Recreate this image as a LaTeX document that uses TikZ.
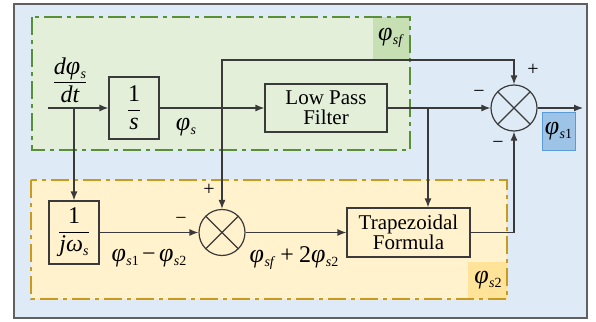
\documentclass[tikz,border=0pt]{standalone}
\usepackage{fontspec}
\setmainfont{Liberation Serif}
\usepackage{amsmath}
\usetikzlibrary{arrows.meta,calc}
\definecolor{bgblue}{HTML}{DEEAF6}
\definecolor{framegray}{HTML}{606060}
\definecolor{boxgray}{HTML}{3A3A3A}
\definecolor{grnline}{HTML}{5A8F3A}
\definecolor{grnfill}{HTML}{E3EFD9}
\definecolor{grnlab}{HTML}{C6DFB3}
\definecolor{ylwline}{HTML}{C99A1E}
\definecolor{ylwfill}{HTML}{FFF2CC}
\definecolor{ylwlab}{HTML}{FFE398}
\definecolor{bluelab}{HTML}{9DC3E6}
\definecolor{blueline}{HTML}{5B9BD5}
\newcommand{\myphi}[1]{{\fontsize{26}{26}\selectfont\textit{φ}}\kern0.5pt\raisebox{-4pt}{\fontsize{14}{14}\selectfont #1}}
\newcommand{\bigtxt}{\fontsize{24}{24}\selectfont}
\begin{document}
\begin{tikzpicture}[x=1pt,y=-1pt,
  font=\fontsize{20}{24}\selectfont,
  blk/.style={draw=boxgray, line width=1.2pt, inner sep=0pt, align=center},
  sumnode/.style={circle, draw=boxgray, line width=1.2pt, minimum size=46pt, inner sep=0pt,
    path picture={\draw[boxgray, line width=1.2pt]
      (path picture bounding box.north west) -- (path picture bounding box.south east)
      (path picture bounding box.north east) -- (path picture bounding box.south west);}},
  arr/.style={draw=boxgray, line width=1.2pt, -{Latex[length=9pt,width=7pt]}},
  arrboth/.style={draw=boxgray, line width=1.2pt, {Latex[length=9pt,width=7pt]}-{Latex[length=9pt,width=7pt]}},
  dashdot/.style={line width=2.2pt, dash pattern=on 18pt off 5pt on 4pt off 5pt},
  lbl/.style={inner sep=1pt}]
\useasboundingbox (0,0) rectangle (596,321);
% outer frame
\draw[framegray, line width=2pt, fill=bgblue] (14,4) rectangle (587,318);
% green region
\fill[grnfill] (32,17) rectangle (410,150);
\fill[grnlab] (373,17) rectangle (410,59);
\draw[grnline, dashdot] (32,17) rectangle (410,150);
\node[lbl] (lsf) at (391,38) {\myphi{\textit{sf}}};
% yellow region
\fill[ylwfill] (31,180) rectangle (507,299);
\fill[ylwlab] (468,262) rectangle (507,299);
\draw[ylwline, dashdot] (31,180) rectangle (507,299);
\node[lbl] (ls2) at (488,280) {\myphi{\textit{s}2}};
% phi_s1 label box
\node[draw=blueline, fill=bluelab, line width=0.8pt, minimum width=33pt, minimum height=38pt, inner sep=0pt] (ls1) at (558.5,131) {\myphi{\textit{s}1}};
% blocks
\node[blk, minimum width=50pt, minimum height=62pt] (int) at (134,108) {$\dfrac{\text{\bigtxt 1}}{\text{\bigtxt\itshape s}}$};
\node[blk, minimum width=122pt, minimum height=48pt, font=\fontsize{21}{20}\selectfont] (lpf) at (326,108) {Low Pass\\Filter};
\node[blk, minimum width=50pt, minimum height=63pt] (jw) at (74,232.5) {$\dfrac{\text{\bigtxt 1}}{\text{\bigtxt\itshape jω\raisebox{-4pt}{\fontsize{14}{14}\selectfont s}}}$};
\node[blk, minimum width=123pt, minimum height=49pt, font=\fontsize{21}{20}\selectfont] (trap) at (408.5,232.5) {Trapezoidal\\Formula};
\node[sumnode] (s1) at (514,108) {};
\node[sumnode] (s2) at (222,232.5) {};
% coordinates
\coordinate (in) at (48,108);
\coordinate (b1) at (74,108);
\coordinate (top) at (222,60);
\coordinate (b2) at (428,108);
\coordinate (out) at (583,108);
% connectors
\draw[arr] (in) -- (int);
\draw[arr] (int) -- (lpf);
\draw[arr] (b1) -- (jw.north);
\draw[arrboth] (s2.north) -- (top) -| (s1.north);
\draw[arr] (lpf) -- (s1.west);
\draw[arr] (b2) -- (b2 |- trap.north);
\draw[arr] (s1) -- (out);
\draw[arr] (jw) -- (s2);
\draw[arr] (s2) -- (trap);
\draw[arr] (trap.east) -| (s1.south);
% texts
\node[lbl] (din) at (70,80) {$\dfrac{\text{\bigtxt\itshape d\myphi{s}}}{\text{\bigtxt\itshape dt}}$};
\node[lbl] (lphis) at (186,127) {\myphi{\textit{s}}};
\node[lbl] (ldiff) at (149,258) {\myphi{\textit{s}1}\,{\fontsize{24}{24}\selectfont −}\,\myphi{\textit{s}2}};
\node[lbl] (lsum) at (294,258) {\myphi{\textit{sf}}\ {\fontsize{24}{24}\selectfont +}\ {\fontsize{24}{24}\selectfont 2}\myphi{\textit{s}2}};
\node[lbl] (p1) at (533,70) {+};
\node[lbl] (m1) at (479,94) {−};
\node[lbl] (m2) at (498,145) {−};
\node[lbl] (p2) at (209,190) {+};
\node[lbl] (m3) at (181,221) {−};
\end{tikzpicture}
\end{document}
